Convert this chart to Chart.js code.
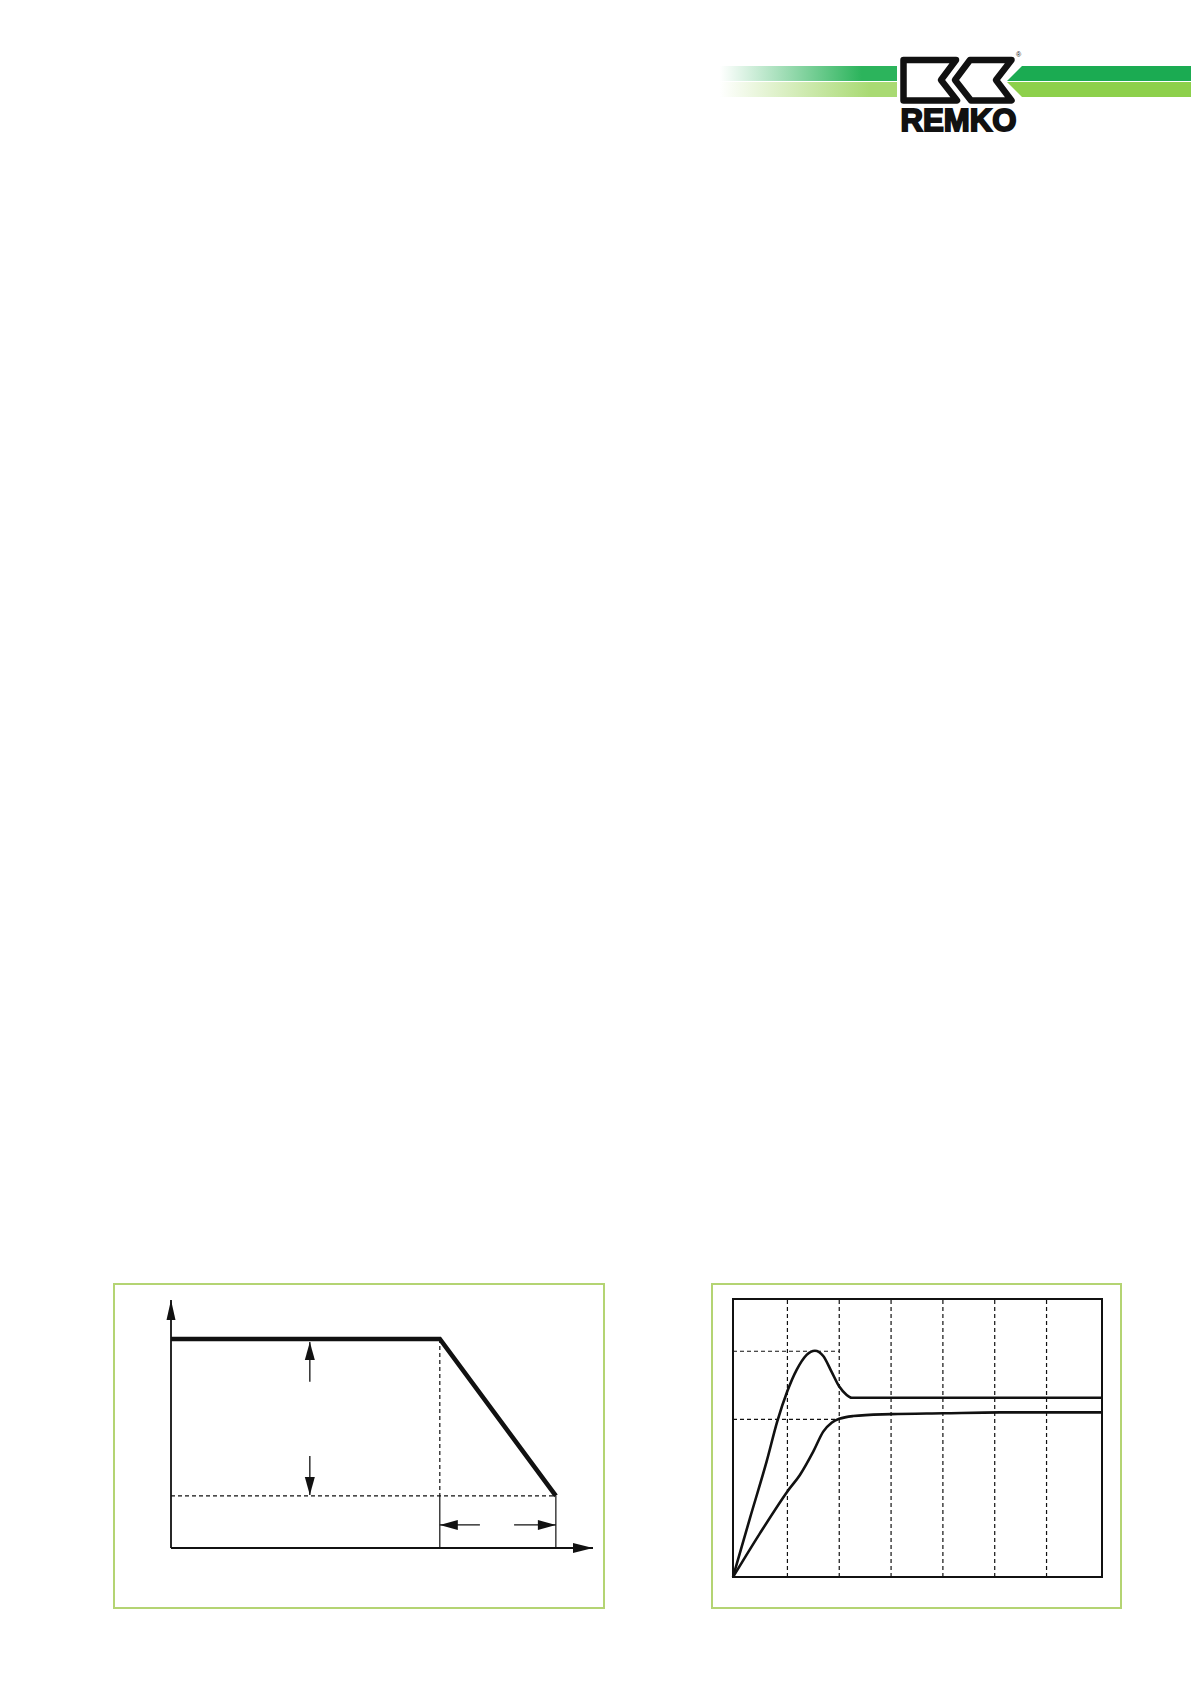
<!DOCTYPE html>
<html>
<head>
<meta charset="utf-8">
<script src="https://cdn.jsdelivr.net/npm/chart.js@4/dist/chart.umd.min.js"></script>
<style>
  body { margin: 0; background: #fff; }
  #page { position: relative; width: 1191px; height: 1684px; overflow: hidden; }
  .box { position: absolute; box-sizing: border-box; border: 2px solid #b4d473; }
  canvas { position: absolute; }
</style>
</head>
<body>
<div id="page">
  <svg width="1191" height="140" style="position:absolute;left:0;top:0">
    <defs>
      <linearGradient id="gUp" gradientUnits="userSpaceOnUse" x1="720" y1="0" x2="897" y2="0">
        <stop offset="0" stop-color="#2cb45c" stop-opacity="0"/>
        <stop offset="0.8" stop-color="#2cb45c" stop-opacity="1"/>
      </linearGradient>
      <linearGradient id="gLow" gradientUnits="userSpaceOnUse" x1="720" y1="0" x2="897" y2="0">
        <stop offset="0" stop-color="#a9da73" stop-opacity="0"/>
        <stop offset="0.85" stop-color="#a9da73" stop-opacity="1"/>
      </linearGradient>
    </defs>
    <rect x="720" y="66" width="177" height="15" fill="url(#gUp)"/>
    <rect x="720" y="82" width="177" height="15" fill="url(#gLow)"/>
    <polygon points="1022,66 1191,66 1191,81 1007,81" fill="#1bab52"/>
    <polygon points="1007,82 1191,82 1191,97 1022,97" fill="#8dd04b"/>
    <g fill="#fff" stroke="#111" stroke-width="6.5" stroke-linejoin="round">
      <polygon points="903.5,60 956,60 941,80 957,100.5 903.5,100.5"/>
      <polygon points="970,60 1011.5,60 996,80 1011.5,100.5 971,100.5 955,80"/>
    </g>
    <text x="1016" y="57" font-family="Liberation Sans, Arial, sans-serif" font-size="7" fill="#111">®</text>
    <text x="900.5" y="131" font-family="Liberation Sans, Arial, sans-serif" font-weight="bold" font-size="32"
          textLength="116" lengthAdjust="spacingAndGlyphs" fill="#111" stroke="#111" stroke-width="1.9">REMKO</text>
  </svg>

  <div class="box" style="left:113px;top:1283px;width:492px;height:326px"></div>
  <canvas id="limitChart" width="492" height="326" style="left:113px;top:1283px"></canvas>

  <div class="box" style="left:711px;top:1283px;width:411px;height:326px"></div>
  <canvas id="stepChart" width="411" height="326" style="left:711px;top:1283px"></canvas>
</div>

<script>
// ---- left diagram (values in % of axis length) ----
const capX = [0, 63.7, 91.2];
const capY = [84.3, 84.3, 21.0];
const floorY = 21.0;
const upArrowX = 32.9;
const upArrowY = [67.0, 83.1];
const downArrowY = [37.1, 21.4];
const spanArrowY = 9.3;
const leftArrowX = [73.2, 63.7];
const rightArrowX = [81.3, 91.2];

// ---- right diagram (x in grid steps, y in % of frame height) ----
const overshootX = [-0.05, 0.276, 0.598, 0.803, 0.996, 1.178, 1.371, 1.531, 1.691, 1.853, 2.0, 2.143, 2.239, 7.07];
const overshootY = [0, 21.1, 41.5, 55.9, 66.7, 74.5, 79.9, 81.4, 79.5, 73.8, 68.5, 65.5, 64.5, 64.5];
const smoothX = [-0.05, 0.469, 0.996, 1.241, 1.498, 1.691, 1.853, 2.0, 2.27, 3.004, 4.008, 5.10, 7.07];
const smoothY = [0, 15.7, 30.7, 36.7, 45.1, 52.3, 55.5, 56.9, 57.9, 58.6, 58.9, 59.2, 59.2];
const gridX = [1, 2, 3, 4, 5, 6];
const guideY = [81.2, 56.7];
const guideEndX = 2;
const stepXMin = -0.05, stepXMax = 7.07;

const INK = '#111';
const pts = (xs, ys) => xs.map((x, i) => ({ x, y: ys[i] }));

function line(data, extra) {
  return Object.assign({
    data, borderColor: INK, borderWidth: 1.2, pointRadius: 0, tension: 0,
    fill: false, clip: false, borderJoinStyle: 'miter'
  }, extra || {});
}

// arrowhead at the last point of any dataset that has `arrow: [length, halfWidth]`
const arrowHeads = {
  id: 'arrowHeads',
  afterDatasetsDraw(chart) {
    const ctx = chart.ctx;
    chart.data.datasets.forEach((ds, i) => {
      if (!ds.arrow) return;
      const el = chart.getDatasetMeta(i).data;
      const tip = el[el.length - 1], prev = el[el.length - 2];
      const a = Math.atan2(tip.y - prev.y, tip.x - prev.x);
      ctx.save();
      ctx.translate(tip.x, tip.y);
      ctx.rotate(a);
      ctx.beginPath();
      ctx.moveTo(0, 0);
      ctx.lineTo(-ds.arrow[0], -ds.arrow[1]);
      ctx.lineTo(-ds.arrow[0], ds.arrow[1]);
      ctx.closePath();
      ctx.fillStyle = INK;
      ctx.fill();
      ctx.restore();
    });
  }
};

const frame = {
  id: 'frame',
  afterDatasetsDraw(chart, args, opts) {
    if (!opts.draw) return;
    const { ctx, chartArea: a } = chart;
    ctx.save();
    ctx.strokeStyle = INK;
    ctx.lineWidth = 2;
    ctx.strokeRect(a.left, a.top, a.right - a.left, a.bottom - a.top);
    ctx.restore();
  }
};

const dash = [4, 3];

new Chart(document.getElementById('limitChart'), {
  type: 'line',
  data: {
    datasets: [
      line(pts([capX[0], capX[2]], [floorY, floorY]), { borderDash: dash }),
      line(pts([capX[1], capX[1]], [capY[1], floorY]), { borderDash: dash }),
      line(pts([capX[1], capX[1]], [floorY, 0])),
      line(pts([capX[2], capX[2]], [floorY, 0])),
      line(pts([0, 0], [0, 100]), { borderWidth: 1.8, arrow: [20, 4.5] }),
      line(pts([0, 100], [0, 0]), { borderWidth: 1.8, arrow: [20, 5] }),
      line(pts(capX, capY), { borderWidth: 4.6 }),
      line(pts([upArrowX, upArrowX], upArrowY), { borderWidth: 1.3, arrow: [18, 5] }),
      line(pts([upArrowX, upArrowX], downArrowY), { borderWidth: 1.3, arrow: [18, 5] }),
      line(pts(leftArrowX, [spanArrowY, spanArrowY]), { borderWidth: 1.3, arrow: [18, 5] }),
      line(pts(rightArrowX, [spanArrowY, spanArrowY]), { borderWidth: 1.3, arrow: [18, 5] })
    ]
  },
  options: {
    responsive: false,
    animation: false,
    devicePixelRatio: 1,
    layout: { padding: { left: 58, right: 12, top: 17, bottom: 61 } },
    plugins: { legend: { display: false }, tooltip: { enabled: false } },
    scales: {
      x: { type: 'linear', min: 0, max: 100, display: false },
      y: { type: 'linear', min: 0, max: 100, display: false }
    }
  },
  plugins: [arrowHeads]
});

const stepSets = [];
gridX.forEach(g => stepSets.push(line(pts([g, g], [0, 100]), { borderDash: dash })));
guideY.forEach(v => stepSets.push(line(pts([stepXMin, guideEndX], [v, v]), { borderDash: dash })));
stepSets.push(line(pts(overshootX, overshootY), { borderWidth: 2.6, cubicInterpolationMode: 'monotone', borderJoinStyle: 'round' }));
stepSets.push(line(pts(smoothX, smoothY), { borderWidth: 2.6, cubicInterpolationMode: 'monotone', borderJoinStyle: 'round' }));

new Chart(document.getElementById('stepChart'), {
  type: 'line',
  data: { datasets: stepSets },
  options: {
    responsive: false,
    animation: false,
    devicePixelRatio: 1,
    layout: { padding: { left: 22, right: 20, top: 16, bottom: 32 } },
    plugins: { legend: { display: false }, tooltip: { enabled: false }, frame: { draw: true } },
    scales: {
      x: { type: 'linear', min: stepXMin, max: stepXMax, display: false },
      y: { type: 'linear', min: 0, max: 100, display: false }
    }
  },
  plugins: [frame]
});
</script>
</body>
</html>
